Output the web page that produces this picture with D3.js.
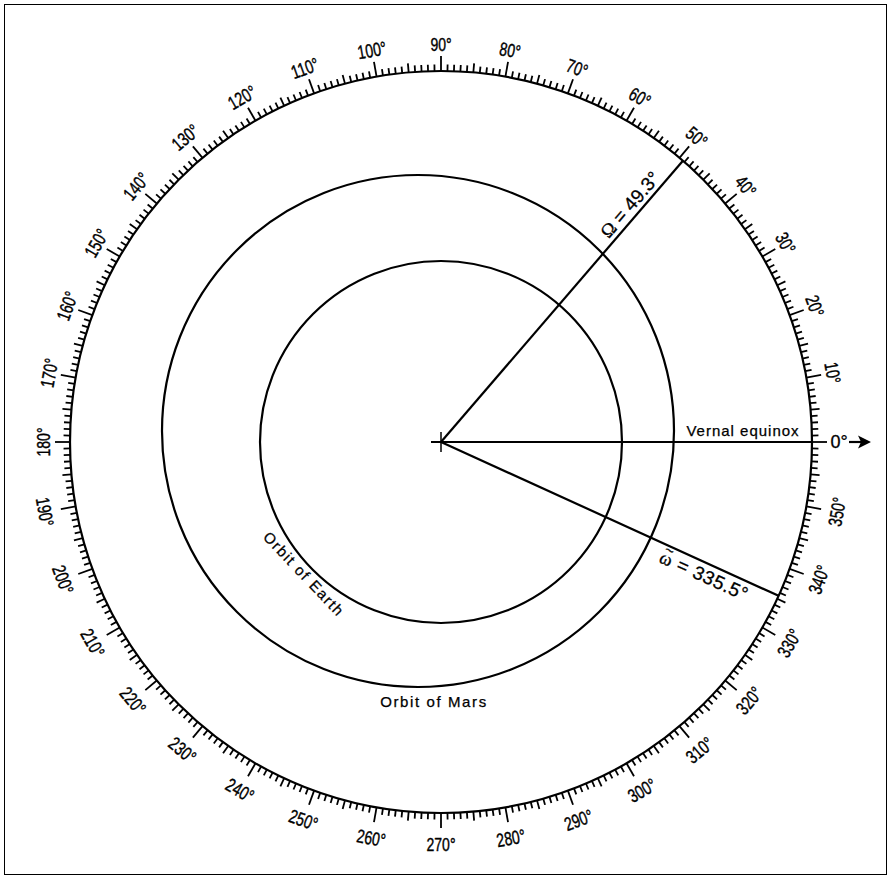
<!DOCTYPE html>
<html><head><meta charset="utf-8">
<script src="https://cdn.jsdelivr.net/npm/d3@7"></script>
<style>body{margin:0;background:#fff}svg{display:block}</style>
</head><body>
<script>
// ---- data ----
const degreeTicks = d3.range(0, 360, 1);
const tickLabels = d3.range(10, 360, 10);          // 0° is drawn separately at the arrow
const nodeLongitude = 49.3;                          // Ω
const perihelionLongitude = 335.5;                   // ϖ
const orbitNames = ["Orbit of Earth", "Orbit of Mars"];

// ---- layout ----
const W = 892, H = 879;
const cx = 441, cy = 442, R = 371;
const FONT = "Liberation Sans, Arial, sans-serif";
const svg = d3.select("body").append("svg").attr("width", W).attr("height", H);
svg.append("rect").attr("x", 4.5).attr("y", 4.5).attr("width", 882).attr("height", 870)
  .attr("fill", "none").attr("stroke", "#000").attr("stroke-width", 1);

const ang = d3.scaleLinear().domain([0, 360]).range([0, 2 * Math.PI]);
const px = (deg, r) => cx + r * Math.cos(ang(deg));
const py = (deg, r) => cy - r * Math.sin(ang(deg));

const g = svg.append("g");

// outer graduated circle
g.append("circle").attr("cx", cx).attr("cy", cy).attr("r", R)
  .attr("fill", "none").attr("stroke", "#000").attr("stroke-width", 2.2);

const tickLen = d => d % 10 === 0 ? 15 : (d % 5 === 0 ? 9 : 6.5);
g.selectAll("line.tick").data(degreeTicks).join("line").attr("class", "tick")
  .attr("x1", d => px(d, R)).attr("y1", d => py(d, R))
  .attr("x2", d => px(d, R + tickLen(d))).attr("y2", d => py(d, R + tickLen(d)))
  .attr("stroke", "#000").attr("stroke-width", 1.8);

// ring labels
g.selectAll("g.lab").data(tickLabels).join("g").attr("class", "lab")
  .attr("transform", d => {
    const upper = d <= 180;
    const r = upper ? 398 : 402;
    const rot = upper ? 90 - d : 270 - d;
    return `translate(${px(d, r)},${py(d, r)}) rotate(${rot}) scale(0.74,1)`;
  })
  .append("text")
  .attr("text-anchor", "middle").attr("dy", "0.36em")
  .attr("font-family", FONT).attr("font-size", 19)
  .attr("stroke", "#000").attr("stroke-width", 0.4)
  .text(d => d + "°");

// orbits
g.append("circle").attr("cx", cx).attr("cy", cy).attr("r", 181)
  .attr("fill", "none").attr("stroke", "#000").attr("stroke-width", 2.2);
g.append("circle").attr("cx", 418).attr("cy", 431).attr("r", 256)
  .attr("fill", "none").attr("stroke", "#000").attr("stroke-width", 2.2);

// vernal equinox line
g.append("line").attr("x1", cx - 10).attr("y1", cy).attr("x2", px(0, R)).attr("y2", cy)
  .attr("stroke", "#000").attr("stroke-width", 2.2);
g.append("line").attr("x1", cx).attr("y1", cy - 10).attr("x2", cx).attr("y2", cy + 10)
  .attr("stroke", "#000").attr("stroke-width", 1.5);
g.append("text").attr("x", 743).attr("y", 436).attr("text-anchor", "middle")
  .attr("font-family", FONT).attr("font-size", 15)
  .attr("letter-spacing", 1).attr("stroke", "#000").attr("stroke-width", 0.25).text("Vernal equinox");
g.append("text").attr("x", 839).attr("y", cy).attr("dy", "0.36em").attr("text-anchor", "middle")
  .attr("font-family", FONT).attr("font-size", 18).attr("stroke", "#000").attr("stroke-width", 0.3)
  .text("0°");
g.append("line").attr("x1", 849).attr("y1", cy).attr("x2", 862).attr("y2", cy)
  .attr("stroke", "#000").attr("stroke-width", 2.2);
g.append("path").attr("d", `M871,${cy} L858,${cy - 6.5} L861,${cy} L858,${cy + 6.5} Z`).attr("fill", "#000");

// node and perihelion lines
[nodeLongitude, perihelionLongitude].forEach(a => {
  g.append("line").attr("x1", cx).attr("y1", cy).attr("x2", px(a, R)).attr("y2", py(a, R))
    .attr("stroke", "#000").attr("stroke-width", 2.2);
});

// Ω label
{
  const r = 263;
  const t = g.append("text")
    .attr("transform", `translate(${px(nodeLongitude, r)},${py(nodeLongitude, r)}) rotate(${-nodeLongitude}) translate(0,-5)`)
    .attr("text-anchor", "start").attr("font-family", FONT)
    .attr("font-size", 19).attr("stroke", "#000").attr("stroke-width", 0.3);
  t.append("tspan").attr("font-family", "Liberation Serif, serif").attr("font-size", 19).text("Ω");
  t.append("tspan").text(" = 49.3°");
}
// ϖ label (omega with tilde)
{
  const r = 247;
  const a = perihelionLongitude;
  const grp = g.append("g")
    .attr("transform", `translate(${px(a, r)},${py(a, r)}) rotate(${360 - a}) translate(0,19)`);
  const t = grp.append("text").attr("text-anchor", "start").attr("font-family", FONT)
    .attr("font-size", 19).attr("stroke", "#000").attr("stroke-width", 0.3).attr("letter-spacing", 0.6);
  t.append("tspan").attr("font-family", "Liberation Serif, serif").text("ω");
  t.append("tspan").text(" = 335.5°");
  grp.append("text").attr("x", 1.5).attr("y", -10).attr("font-family", FONT).attr("font-size", 15)
    .attr("stroke", "#000").attr("stroke-width", 0.3).text("~");
}

// orbit names
g.append("text").attr("transform", "translate(304,574) rotate(46.5)")
  .attr("text-anchor", "middle").attr("dy", "0.36em")
  .attr("font-family", FONT).attr("font-size", 15).attr("stroke", "#000").attr("stroke-width", 0.25)
  .attr("letter-spacing", 1.5).text(orbitNames[0]);
g.append("text").attr("x", 434).attr("y", 707).attr("text-anchor", "middle")
  .attr("font-family", FONT).attr("font-size", 15).attr("stroke", "#000").attr("stroke-width", 0.25)
  .attr("letter-spacing", 1.6).text(orbitNames[1]);
</script>
</body></html>
